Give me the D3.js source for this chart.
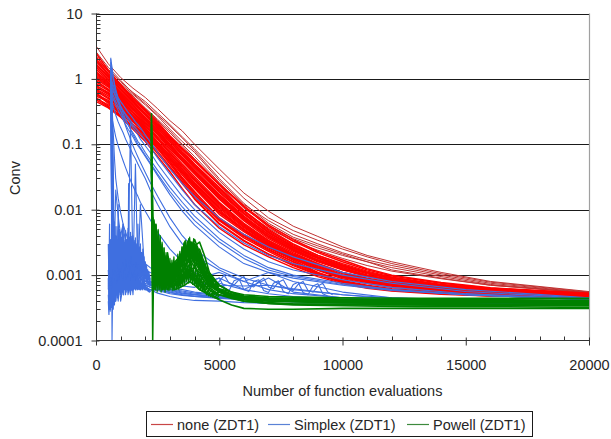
<!DOCTYPE html>
<html><head><meta charset="utf-8">
<script src="https://cdn.jsdelivr.net/npm/d3@7"></script>
<style>body{margin:0;background:#fff}svg{display:block}text{font-family:"Liberation Sans",Arial,sans-serif}</style>
</head><body><svg id="c" width="611" height="439"></svg>
<script>
const seriesNames = ["none (ZDT1)", "Simplex (ZDT1)", "Powell (ZDT1)"];
const yTickValues = [0.0001, 0.001, 0.01, 0.1, 1, 10];
const yTickLabels = ["0.0001", "0.001", "0.01", "0.1", "1", "10"];
const xTickValues = [0, 5000, 10000, 15000, 20000];
const xTickLabels = ["0", "5000", "10000", "15000", "20000"];
const xTitle = "Number of function evaluations";
const yTitle = "Conv";

// ---- "none" runs
const redX = [0,500,1000,1500,2000,2500,3000,3500,4000,5000,6000,7000,8000,9000,10000,11000,12000,14000,16000,20000];
const redOutlierRuns = [
 [3.2,1.7,1.05,0.72,0.52,0.35,0.23,0.16,0.1,0.042,0.018,0.0095,0.0056,0.0039,0.0027,0.002,0.0016,0.0011,0.0008,0.00056],
 [2.4,1.4,0.9,0.62,0.45,0.3,0.2,0.13,0.085,0.035,0.015,0.0075,0.0048,0.0034,0.0025,0.0019,0.0015,0.00105,0.00078,0.00055],
 [2.0,1.3,0.85,0.58,0.4,0.27,0.17,0.11,0.075,0.028,0.012,0.0068,0.0042,0.003,0.0022,0.0017,0.0014,0.001,0.00075,0.00054],
 [1.8,1.2,0.8,0.55,0.36,0.24,0.16,0.1,0.065,0.026,0.0105,0.0058,0.0036,0.0026,0.002,0.0016,0.0013,0.00095,0.00072,0.00053],
 [2.6,1.5,0.95,0.6,0.42,0.28,0.19,0.125,0.08,0.03,0.0125,0.0062,0.0038,0.0028,0.0021,0.0016,0.0012,0.0009,0.0007,0.00054],
 [1.6,1.1,0.75,0.5,0.35,0.23,0.15,0.095,0.06,0.024,0.0095,0.0052,0.0033,0.0024,0.0018,0.0014,0.00115,0.00088,0.0007,0.00053]
];
const redRuns = [
 [1.5,1.0,0.65,0.42,0.28,0.18,0.11,0.07,0.045,0.02,0.009,0.0045,0.0028,0.0019,0.0014,0.0011,0.0009,0.0007,0.0006,0.0005],
 [1.2,0.85,0.55,0.36,0.24,0.15,0.095,0.06,0.038,0.016,0.0075,0.0039,0.0025,0.0017,0.0013,0.001,0.00085,0.00068,0.00058,0.0005],
 [1.0,0.75,0.5,0.33,0.21,0.13,0.08,0.05,0.032,0.013,0.0062,0.0034,0.0022,0.0015,0.0011,0.0009,0.00078,0.00064,0.00056,0.00049],
 [0.8,0.6,0.42,0.28,0.18,0.11,0.068,0.042,0.026,0.011,0.0055,0.003,0.002,0.0014,0.001,0.00084,0.00073,0.0006,0.00054,0.00048],
 [0.65,0.5,0.36,0.24,0.16,0.1,0.06,0.036,0.022,0.009,0.0048,0.0028,0.0018,0.0012,0.00092,0.00077,0.00068,0.00058,0.00052,0.00047],
 [0.55,0.45,0.32,0.22,0.15,0.09,0.055,0.031,0.019,0.0075,0.0042,0.0026,0.0017,0.0011,0.00083,0.0007,0.00062,0.00055,0.0005,0.00046],
 [2.0,1.2,0.75,0.48,0.32,0.2,0.125,0.08,0.05,0.022,0.0098,0.005,0.003,0.002,0.0015,0.00115,0.00093,0.00072,0.00062,0.00052],
 [1.3,0.9,0.6,0.4,0.26,0.165,0.1,0.063,0.04,0.017,0.008,0.0042,0.0026,0.0018,0.00135,0.00105,0.00088,0.0007,0.0006,0.0005],
 [0.9,0.7,0.48,0.31,0.2,0.125,0.075,0.047,0.03,0.012,0.0058,0.0032,0.0021,0.00145,0.00105,0.00087,0.00075,0.00062,0.00055,0.00049],
 [1.1,0.8,0.52,0.34,0.22,0.14,0.085,0.055,0.035,0.0145,0.0068,0.0036,0.0023,0.0016,0.0012,0.00095,0.0008,0.00065,0.00057,0.0005],
 [0.7,0.55,0.4,0.26,0.17,0.105,0.063,0.039,0.024,0.01,0.005,0.0029,0.0019,0.0013,0.00095,0.0008,0.0007,0.00059,0.00053,0.00048],
 [1.7,1.1,0.7,0.45,0.3,0.19,0.12,0.075,0.048,0.021,0.0095,0.0048,0.0029,0.002,0.00145,0.0011,0.0009,0.00071,0.00061,0.00051],
 [0.6,0.42,0.3,0.2,0.14,0.085,0.05,0.029,0.017,0.007,0.0039,0.0024,0.0016,0.00105,0.0008,0.00068,0.0006,0.00053,0.0005,0.00046],
 [1.4,0.95,0.62,0.4,0.25,0.16,0.1,0.062,0.039,0.017,0.0078,0.0041,0.0026,0.0018,0.0013,0.001,0.00085,0.00068,0.00058,0.0005],
 [0.95,0.68,0.46,0.3,0.19,0.12,0.072,0.044,0.028,0.0115,0.0056,0.0031,0.002,0.0014,0.001,0.00085,0.00074,0.00061,0.00054,0.00048],
 [2.2,1.3,0.8,0.5,0.33,0.21,0.13,0.085,0.055,0.024,0.011,0.0055,0.0033,0.0022,0.0016,0.0012,0.00097,0.00075,0.00063,0.00052],
 [0.75,0.58,0.38,0.25,0.165,0.1,0.062,0.038,0.023,0.0095,0.005,0.0029,0.0019,0.0013,0.00094,0.00079,0.00069,0.00058,0.00053,0.00047],
 [1.25,0.88,0.58,0.38,0.25,0.16,0.098,0.061,0.039,0.016,0.0074,0.0039,0.0025,0.0017,0.00125,0.00098,0.00083,0.00066,0.00058,0.0005],
 [1.9,1.15,0.7,0.46,0.29,0.19,0.115,0.074,0.047,0.019,0.0088,0.0046,0.0027,0.0019,0.0014,0.0011,0.00092,0.0007,0.0006,0.00051],
 [0.85,0.66,0.44,0.3,0.19,0.12,0.074,0.046,0.029,0.0125,0.006,0.0033,0.0021,0.0015,0.0011,0.00088,0.00076,0.00063,0.00055,0.00049],
 [1.05,0.78,0.54,0.35,0.23,0.145,0.09,0.056,0.036,0.015,0.0071,0.0038,0.0024,0.00165,0.00122,0.00096,0.00082,0.00066,0.00057,0.0005],
 [0.58,0.47,0.34,0.23,0.155,0.095,0.058,0.034,0.021,0.0085,0.0046,0.0027,0.00175,0.00118,0.00088,0.00074,0.00065,0.00056,0.00051,0.00047],
 [1.6,1.05,0.68,0.44,0.28,0.175,0.108,0.068,0.043,0.0185,0.0085,0.0044,0.0027,0.00185,0.00138,0.00108,0.0009,0.00071,0.0006,0.00051],
 [0.68,0.52,0.37,0.25,0.16,0.1,0.061,0.037,0.0225,0.0092,0.0049,0.0028,0.00185,0.00125,0.00093,0.00078,0.00068,0.00058,0.00052,0.00047],
 [1.15,0.82,0.56,0.36,0.235,0.15,0.092,0.058,0.037,0.0155,0.0073,0.0038,0.0024,0.00168,0.00123,0.00097,0.00082,0.00066,0.00057,0.0005],
 [0.5,0.4,0.3,0.2,0.145,0.088,0.053,0.03,0.018,0.0072,0.004,0.0025,0.0016,0.00108,0.0008,0.00068,0.0006,0.00053,0.00049,0.00046],
 [2.5,1.35,0.82,0.52,0.34,0.22,0.135,0.088,0.058,0.025,0.0115,0.0058,0.0035,0.0023,0.0017,0.00125,0.001,0.00077,0.00064,0.00053],
 [0.78,0.62,0.41,0.27,0.175,0.108,0.066,0.041,0.025,0.0105,0.0053,0.003,0.00195,0.00135,0.00098,0.00082,0.00072,0.0006,0.00053,0.00048],
 [0.45,0.36,0.26,0.17,0.11,0.065,0.038,0.021,0.012,0.0052,0.0029,0.0019,0.0013,0.00095,0.00074,0.00063,0.00057,0.00051,0.00048,0.00045],
 [0.52,0.38,0.28,0.18,0.12,0.072,0.043,0.025,0.015,0.0062,0.0034,0.0021,0.00145,0.00102,0.00078,0.00066,0.00059,0.00052,0.00049,0.00046],
 [0.62,0.44,0.31,0.2,0.13,0.078,0.046,0.027,0.016,0.0068,0.0037,0.0023,0.0015,0.00105,0.0008,0.00067,0.0006,0.00053,0.00049,0.00046],
 [0.48,0.37,0.27,0.185,0.125,0.075,0.044,0.026,0.0145,0.006,0.0033,0.0021,0.0014,0.001,0.00077,0.00065,0.00058,0.00052,0.00048,0.00045]
];

// ---- "Simplex" runs
const blueX = [600,650,700,750,800,900,1000,1100,1200,1300,1400,1500,1600,1700,1800,2000,2200,2500,3000,3500,4000,5000,6000,7000,8000,10000,12000,15000,20000];
const blueRuns = [
 [2.1,0.0001,0.0025,0.0008,0.0015,0.0006,0.002,0.0009,0.0012,0.0007,0.0018,0.0008,0.0011,0.0006,0.0009,0.0007,0.00065,0.0006,0.00055,0.0005,0.00048,0.00045,0.00043,0.00041,0.0004,0.00039,0.00038,0.00038,0.00037],
 [1.8,0.9,0.004,0.0012,0.0005,0.0025,0.0007,0.0015,0.0005,0.0022,0.0009,0.0014,0.0006,0.0012,0.0008,0.0006,0.0006,0.00058,0.00052,0.00049,0.00047,0.00044,0.00042,0.0004,0.00039,0.00038,0.00038,0.00037,0.00037],
 [1.2,0.02,0.0006,0.003,0.0009,0.0004,0.0012,0.0005,0.0019,0.0008,0.0005,0.0016,0.0007,0.0009,0.0013,0.0007,0.00072,0.00068,0.00062,0.00057,0.00053,0.00049,0.00045,0.00042,0.00041,0.0004,0.00039,0.00038,0.00037],
 [0.8,0.005,0.0015,0.00035,0.0012,0.0028,0.0006,0.001,0.0025,0.0006,0.0013,0.0005,0.002,0.0007,0.0006,0.00075,0.0007,0.00063,0.00057,0.00052,0.0005,0.00046,0.00044,0.00042,0.0004,0.00039,0.00038,0.00038,0.00037],
 [0.5,0.3,0.05,0.0009,0.0004,0.0011,0.0032,0.0008,0.0006,0.0014,0.0035,0.0009,0.0006,0.0015,0.001,0.0008,0.00078,0.00072,0.00066,0.0006,0.00055,0.0005,0.00046,0.00043,0.00041,0.0004,0.00039,0.00038,0.00038],
 [1.5,0.1,0.0008,0.0018,0.0007,0.0016,0.0005,0.0012,0.0007,0.003,0.0008,0.0011,0.05,0.0009,0.0006,0.0007,0.00066,0.0006,0.00054,0.0005,0.00047,0.00045,0.00043,0.00041,0.0004,0.00039,0.00038,0.00037,0.00037],
 [0.9,0.6,0.01,0.0007,0.0022,0.0008,0.0014,0.0006,0.001,0.0017,0.2,0.0012,0.0008,0.0018,0.0011,0.0009,0.00075,0.00066,0.0006,0.00055,0.00051,0.00047,0.00044,0.00042,0.00041,0.0004,0.00039,0.00038,0.00038],
 [0.4,0.002,0.0003,0.0009,0.0004,0.0013,0.0004,0.0007,0.0013,0.0005,0.0009,0.0006,0.0014,0.0006,0.00075,0.00065,0.0006,0.00053,0.00047,0.00043,0.00041,0.0004,0.00038,0.00037,0.00036,0.00036,0.00036,0.00035,0.00035],
 [1.0,0.0015,0.0009,0.0005,0.002,0.0009,0.0007,0.0024,0.0009,0.0006,0.0012,0.0007,0.001,0.0008,0.012,0.0008,0.0007,0.00065,0.00059,0.00053,0.0005,0.00046,0.00043,0.00041,0.0004,0.00039,0.00038,0.00038,0.00037],
 [0.7,0.15,0.003,0.0012,0.0006,0.0009,0.0018,0.0011,0.0006,0.0009,0.0006,0.0019,0.0008,0.0006,0.0009,0.0008,0.0008,0.00075,0.0007,0.00068,0.00065,0.0009,0.0006,0.0009,0.00055,0.00045,0.0004,0.00039,0.00038],
 [0.6,0.55,0.5,0.45,0.4,0.33,0.28,0.24,0.2,0.17,0.15,0.13,0.11,0.095,0.085,0.065,0.05,0.033,0.017,0.0095,0.0058,0.0027,0.0015,0.0011,0.0009,0.0007,0.00058,0.0005,0.00042],
 [0.85,0.75,0.65,0.58,0.52,0.43,0.37,0.32,0.28,0.24,0.21,0.18,0.16,0.14,0.12,0.095,0.075,0.05,0.028,0.016,0.01,0.0045,0.0025,0.0016,0.0012,0.00085,0.00065,0.00052,0.00043],
 [1.0,0.9,0.8,0.7,0.62,0.52,0.45,0.4,0.35,0.31,0.28,0.25,0.22,0.2,0.18,0.14,0.11,0.075,0.042,0.025,0.016,0.0075,0.0042,0.0027,0.0019,0.0011,0.0008,0.0006,0.00045],
 [0.5,0.45,0.38,0.33,0.28,0.22,0.18,0.15,0.12,0.1,0.085,0.07,0.06,0.05,0.042,0.03,0.02,0.012,0.0055,0.003,0.002,0.0012,0.0008,0.0006,0.00052,0.00045,0.00042,0.0004,0.00038],
 [0.7,0.62,0.56,0.5,0.45,0.38,0.32,0.27,0.23,0.2,0.17,0.15,0.13,0.11,0.1,0.075,0.058,0.04,0.022,0.013,0.008,0.0036,0.002,0.0013,0.001,0.00075,0.0006,0.0005,0.00042],
 [1.3,0.1,0.01,0.003,0.02,0.008,0.004,0.006,0.003,0.0025,0.002,0.0018,0.0016,0.0015,0.0014,0.0012,0.0011,0.001,0.0009,0.0008,0.00075,0.0007,0.00068,0.0007,0.00062,0.0005,0.00043,0.0004,0.00038],
 [1.6,1.3,1.0,0.8,0.65,0.45,0.33,0.25,0.19,0.15,0.12,0.095,0.078,0.064,0.053,0.037,0.026,0.016,0.0075,0.004,0.0025,0.0013,0.0009,0.0007,0.0006,0.0005,0.00045,0.00042,0.00039],
 [2.0,1.5,1.1,0.85,0.7,0.5,0.38,0.3,0.24,0.2,0.17,0.14,0.12,0.1,0.088,0.068,0.052,0.035,0.019,0.011,0.0068,0.0032,0.0018,0.0012,0.00095,0.00072,0.0006,0.0005,0.00042],
 [0.3,0.25,0.2,0.16,0.13,0.095,0.072,0.056,0.044,0.035,0.028,0.023,0.019,0.016,0.013,0.0095,0.007,0.0045,0.0025,0.0016,0.0011,0.00075,0.0006,0.00052,0.00047,0.00043,0.0004,0.00039,0.00037],
 [0.95,0.85,0.72,0.62,0.55,0.45,0.38,0.33,0.29,0.26,0.23,0.2,0.18,0.16,0.145,0.115,0.09,0.062,0.035,0.02,0.012,0.0055,0.0031,0.002,0.0015,0.001,0.00075,0.00056,0.00044],
 [1.1,0.4,0.15,0.06,0.03,0.015,0.009,0.006,0.0045,0.0035,0.003,0.0026,0.0023,0.002,0.0018,0.0015,0.0013,0.0011,0.001,0.0009,0.00085,0.0011,0.0008,0.0011,0.0008,0.00055,0.00045,0.0004,0.00038]
];
// dense early Simplex samples
const blueNoiseX = [500,525,550,575,600,625,650,675,700,725,750,775,800,825,850,875,900,925,950,975,1000,1025,1050,1075,1100,1125,1150,1175,1200,1225,1250,1275,1300,1325,1350,1375,1400,1425,1450,1475,1500,1525,1550,1575,1600,1625,1650,1675,1700,1725,1750,1775,1800,1825,1850,1875,1900,1925,1950,1975,2000,2025,2050,2075,2100,2125,2150,2175,2200];
const blueNoiseRuns = [
 [0.0009,0.0004,0.0012,0.0003,0.0008,0.0025,0.0006,0.0018,0.0005,0.0014,
  0.004,0.0009,0.0022,0.0007,0.0035,0.0012,0.0026,0.0008,0.0019,0.0011,
  0.003,0.0009,0.0021,0.0013,0.0042,0.0012,0.0024,0.0009,0.0017,0.0028,
  0.0011,0.0033,0.0014,0.0022,0.001,0.0026,0.0015,0.0036,0.0012,0.0019,
  0.0009,0.0024,0.0013,0.0029,0.0011,0.0018,0.0026,0.001,0.0021,0.0013,
  0.0025,0.0011,0.0017,0.0009,0.0022,0.0012,0.0016,0.0009,0.0014,0.001,
  0.0013,0.0009,0.0011,0.0008,0.001,0.00085,0.0009,0.0008,0.00075],
 [0.0006,0.0015,0.0004,0.0009,0.0032,0.0007,0.0045,0.0011,0.0028,0.0008,
  0.0016,0.0055,0.0013,0.0031,0.001,0.0021,0.0048,0.0014,0.0027,0.0016,
  0.0038,0.0015,0.0026,0.0052,0.0018,0.003,0.0013,0.0034,0.0021,0.0014,
  0.0027,0.0017,0.0045,0.0019,0.0031,0.0015,0.0023,0.0017,0.0039,0.0021,
  0.0028,0.0016,0.0034,0.0019,0.0025,0.0014,0.003,0.0018,0.0024,0.0015,
  0.0019,0.0027,0.0014,0.0021,0.0013,0.0018,0.0012,0.002,0.0011,0.0016,
  0.001,0.0014,0.0009,0.0012,0.0009,0.0011,0.0008,0.001,0.0008],
 [0.0005,0.0003,0.0007,0.00028,0.0005,0.0009,0.00035,0.0007,0.0004,0.0011,
  0.0005,0.0009,0.00045,0.0012,0.0006,0.0008,0.0005,0.001,0.0006,0.0009,
  0.0006,0.0012,0.0007,0.0009,0.0006,0.0011,0.0007,0.0008,0.0006,0.001,
  0.0007,0.0009,0.0006,0.0012,0.0007,0.0009,0.00065,0.0008,0.0006,0.0011,
  0.0007,0.0009,0.00065,0.0008,0.0006,0.001,0.0007,0.0008,0.00065,0.0009,
  0.0007,0.0008,0.0006,0.00075,0.00065,0.0009,0.0006,0.0008,0.00065,0.0007,
  0.0006,0.00068,0.0006,0.00065,0.00058,0.00062,0.00056,0.0006,0.00055],
 [0.0012,0.0007,0.002,0.0005,0.0015,0.0006,0.0011,0.03,0.0009,0.0016,
  0.0007,0.0013,0.0025,0.0008,0.0014,0.0009,0.012,0.0011,0.0015,0.0008,
  0.0013,0.0009,0.0016,0.0008,0.0012,0.0019,0.001,0.0014,0.0008,0.0013,
  0.0009,0.0015,0.0011,0.025,0.0012,0.0016,0.0009,0.0013,0.0018,0.0011,
  0.0014,0.0009,0.0017,0.0011,0.0013,0.0008,0.0015,0.001,0.006,0.0011,
  0.0013,0.0009,0.0012,0.0008,0.0011,0.0014,0.0009,0.0012,0.0008,0.001,
  0.0009,0.0011,0.0008,0.0009,0.00075,0.0008,0.0007,0.00075,0.0007],
 [0.003,0.0008,0.006,0.0004,0.0035,0.0009,0.008,0.0006,0.0045,0.001,
  0.0065,0.0012,0.004,0.0008,0.0055,0.0015,0.0035,0.0009,0.005,0.0013,
  0.0045,0.0011,0.0038,0.0016,0.006,0.0014,0.0032,0.0012,0.0048,0.0018,
  0.0035,0.0013,0.0052,0.0017,0.0038,0.0012,0.0045,0.002,0.0033,0.0014,
  0.004,0.0015,0.0032,0.0012,0.0037,0.0016,0.0028,0.0013,0.0034,0.0015,
  0.0026,0.0012,0.003,0.0014,0.0022,0.0011,0.0025,0.0012,0.0019,0.001,
  0.0016,0.001,0.0014,0.0009,0.0012,0.0009,0.0011,0.00085,0.0009],
 [0.0004,0.00025,0.0006,0.0003,0.0009,0.00032,0.0006,0.0004,0.0012,0.00045,
  0.0008,0.0004,0.0011,0.0005,0.0007,0.00045,0.001,0.0005,0.0008,0.00055,
  0.0011,0.0005,0.0009,0.00055,0.0008,0.0005,0.0012,0.0006,0.0008,0.00055,
  0.001,0.0006,0.0009,0.00055,0.0011,0.0006,0.0008,0.00058,0.001,0.0006,
  0.0009,0.0006,0.0011,0.00062,0.0008,0.0006,0.0009,0.00062,0.001,0.00065,
  0.0008,0.0006,0.0009,0.00062,0.00075,0.0006,0.0008,0.00062,0.00072,0.0006,
  0.0007,0.0006,0.00065,0.00058,0.00063,0.00056,0.0006,0.00055,0.00058]
];
// scalloped Simplex runs
const blueHumpX = [4600,4800,5000,5200,5400,5600,5800,6000,6200,6400,6600,6800,7000,7200,7400,7600,7800,8000,8200,8400,8600,8800,9000,9200,9400,9600];
const blueHumpRuns = [
 [0.0006,0.00085,0.0009,0.00065,0.00058,0.00082,0.00088,0.0006,0.00056,0.0008,0.00085,0.00058,0.00054,0.00075,0.00082,0.00056,0.00052,0.00072,0.00078,0.00054,0.0005,0.00068,0.00074,0.00052,0.00048,0.00046],
 [0.0009,0.0007,0.0008,0.001,0.00075,0.0007,0.00085,0.00095,0.0007,0.00066,0.0008,0.0009,0.00066,0.00062,0.00078,0.00085,0.00062,0.00058,0.00072,0.0008,0.00058,0.00055,0.00068,0.00075,0.00055,0.0005]
];

// ---- "Powell" runs
const greenX = [2250,2300,2350,2400,2450,2500,2600,2700,2800,2900,3000,3200,3400,3600,3800,4000,4200,4400,4600,5000,5500,6000,7000,8000,10000,13000,16000,20000];
const greenRuns = [
 [0.3,0.0001,0.004,0.0012,0.0025,0.0009,0.0015,0.0011,0.0008,0.0012,0.0009,0.0008,0.0007,0.0009,0.0012,0.0008,0.0006,0.00055,0.0005,0.00055,0.00048,0.00044,0.00041,0.0004,0.00039,0.00038,0.00038,0.00037],
 [0.2,0.006,0.0015,0.0035,0.001,0.0022,0.0009,0.0014,0.0011,0.0007,0.0012,0.001,0.0009,0.0014,0.002,0.0015,0.0009,0.0007,0.0006,0.0005,0.00046,0.00043,0.0004,0.00039,0.00038,0.00037,0.00036,0.00036],
 [0.15,0.002,0.0055,0.0014,0.0008,0.0018,0.0013,0.0007,0.0015,0.0009,0.0008,0.0011,0.0013,0.0018,0.0028,0.003,0.0018,0.0011,0.0008,0.0006,0.0005,0.00046,0.00043,0.00042,0.00041,0.0004,0.0004,0.00039],
 [0.1,0.0009,0.0025,0.006,0.0018,0.0011,0.0025,0.0012,0.0009,0.0014,0.0011,0.0009,0.0012,0.0021,0.0033,0.0026,0.0014,0.0009,0.0007,0.00055,0.00047,0.00042,0.00038,0.00036,0.00035,0.00035,0.00034,0.00034],
 [0.25,0.0005,0.0012,0.0008,0.003,0.0014,0.0007,0.0018,0.0012,0.001,0.0014,0.0008,0.001,0.0016,0.0024,0.0035,0.0022,0.0012,0.0008,0.0006,0.00052,0.00048,0.00045,0.00044,0.00043,0.00042,0.00042,0.00041],
 [0.05,0.003,0.0008,0.002,0.0045,0.001,0.0016,0.0008,0.0019,0.0012,0.0007,0.0012,0.0015,0.0012,0.0019,0.0021,0.0025,0.0015,0.001,0.0007,0.00055,0.00047,0.00042,0.0004,0.00038,0.00036,0.00035,0.00034],
 [0.08,0.0012,0.0035,0.0011,0.0007,0.0016,0.0021,0.001,0.0007,0.0016,0.001,0.0007,0.0009,0.0011,0.0015,0.0018,0.0013,0.0009,0.0007,0.00055,0.00045,0.0004,0.00037,0.00035,0.00034,0.00033,0.00033,0.00032],
 [0.02,0.0006,0.0009,0.0006,0.0012,0.0007,0.0009,0.0006,0.0008,0.0006,0.0007,0.0006,0.00065,0.0007,0.0008,0.0007,0.0006,0.00055,0.0005,0.00042,0.00035,0.00031,0.0003,0.0003,0.00031,0.00031,0.00031,0.00031],
 [0.12,0.004,0.0009,0.0016,0.0009,0.0028,0.0011,0.0015,0.001,0.0022,0.0013,0.0009,0.0011,0.0013,0.0017,0.0028,0.0032,0.002,0.0011,0.0007,0.00054,0.00047,0.00044,0.00043,0.00042,0.00041,0.00041,0.0004],
 [0.04,0.0015,0.0007,0.0012,0.0021,0.0008,0.0011,0.0014,0.0009,0.0008,0.0011,0.0014,0.0008,0.0009,0.0012,0.0013,0.0011,0.0008,0.00065,0.0005,0.00044,0.0004,0.00037,0.00036,0.00036,0.00035,0.00035,0.00035],
 [0.18,0.008,0.002,0.0009,0.0013,0.0035,0.0009,0.0012,0.0017,0.0011,0.0009,0.0016,0.0019,0.0026,0.0022,0.0016,0.0012,0.0009,0.0007,0.00056,0.00049,0.00045,0.00042,0.00041,0.0004,0.00039,0.00039,0.00038],
 [0.06,0.001,0.0018,0.0025,0.0009,0.0013,0.0008,0.0022,0.0014,0.0009,0.0015,0.0011,0.0014,0.0019,0.0027,0.0023,0.0017,0.001,0.00075,0.00058,0.0005,0.00046,0.00043,0.00042,0.0004,0.00039,0.00038,0.00037],
 [0.09,0.0013,0.0022,0.0009,0.0016,0.0011,0.0019,0.0009,0.0013,0.0017,0.001,0.0013,0.0016,0.0022,0.0018,0.0013,0.001,0.0008,0.00068,0.00062,0.00055,0.0005,0.00047,0.00046,0.00045,0.00044,0.00044,0.00044]
];
// dense early Powell samples
const greenNoiseX = [2280,2320,2360,2400,2440,2480,2520,2560,2600,2640,2680,2720,2760,2800,2840,2880,2920,2960,3000,3040,3080,3120,3160,3200,3240,3280,3320,3360,3400,3440,3480,3520,3560,3600,3640,3680,3720,3760,3800,3840,3880,3920,3960,4000,4040,4080,4120,4160,4200,4240,4280,4320,4360,4400,4440,4480,4520,4560,4600,4640,4680,4720,4760,4800,4840,4880,4920,4960,5000];
const greenNoiseRuns = [
 [0.005,0.0009,0.004,0.0012,0.0035,0.0008,0.0025,0.001,0.002,
  0.0008,0.0016,0.0007,0.0014,0.0009,0.0018,0.0007,0.0012,0.0008,
  0.0015,0.0007,0.0011,0.0009,0.0016,0.0008,0.0012,0.0009,0.0014,
  0.001,0.0017,0.0011,0.0021,0.0012,0.0025,0.0013,0.0028,0.0015,
  0.003,0.0016,0.0026,0.0014,0.0032,0.0017,0.0024,0.0013,0.0027,
  0.0014,0.0022,0.0012,0.0019,0.0011,0.0016,0.001,0.0013,0.0009,
  0.0011,0.0008,0.001,0.00075,0.0009,0.0007,0.0008,0.00068,0.00075,
  0.00065,0.0007,0.0006,0.00065,0.00058,0.0006],
 [0.0012,0.0075,0.0015,0.0055,0.0009,0.0038,0.0013,0.0028,0.0008,
  0.0019,0.001,0.0013,0.0006,0.0015,0.0011,0.0017,0.0009,0.0013,
  0.0007,0.0014,0.001,0.0012,0.0008,0.0015,0.0009,0.0017,0.0011,
  0.0019,0.0012,0.0016,0.0024,0.0014,0.0021,0.0033,0.0018,0.0026,
  0.0019,0.0035,0.0021,0.0029,0.0018,0.0025,0.0031,0.0019,0.0023,
  0.0028,0.0016,0.002,0.0014,0.0018,0.0012,0.0015,0.0011,0.0013,
  0.0009,0.0012,0.00085,0.001,0.0008,0.0009,0.00072,0.0008,0.0007,
  0.00072,0.00062,0.00068,0.0006,0.00062,0.00056],
 [0.0025,0.0007,0.0018,0.0006,0.0013,0.0007,0.0016,0.0006,0.0012,
  0.0006,0.0011,0.0007,0.001,0.0006,0.0009,0.0007,0.0011,0.0006,
  0.001,0.0007,0.0009,0.0006,0.0011,0.0007,0.0009,0.0006,0.001,
  0.0007,0.0012,0.0008,0.0011,0.0007,0.0013,0.0008,0.0015,0.0009,
  0.0014,0.0009,0.0017,0.001,0.0015,0.0009,0.0013,0.0008,0.0012,
  0.0008,0.0011,0.0007,0.001,0.0007,0.0009,0.00065,0.0008,0.0006,
  0.00075,0.0006,0.0007,0.00055,0.00065,0.00055,0.0006,0.0005,0.00058,
  0.0005,0.00055,0.00048,0.00052,0.00047,0.0005],
 [0.008,0.003,0.007,0.0025,0.006,0.002,0.005,0.0018,0.004,
  0.0015,0.0032,0.0012,0.0026,0.0011,0.002,0.0009,0.0016,0.001,
  0.0013,0.0009,0.0012,0.0014,0.001,0.0013,0.0016,0.0011,0.0018,
  0.0013,0.0021,0.0015,0.0019,0.0027,0.002,0.0024,0.0032,0.0022,
  0.0028,0.0036,0.0025,0.0031,0.0022,0.0029,0.0034,0.0021,0.0026,
  0.0019,0.0024,0.0017,0.0021,0.0015,0.0018,0.0013,0.0016,0.0012,
  0.0014,0.001,0.0012,0.0009,0.001,0.0008,0.0009,0.00075,0.0008,
  0.0007,0.00075,0.00065,0.0007,0.0006,0.00062],
 [0.0075,0.002,0.0065,0.0028,0.0058,0.002,0.0048,0.0018,0.004,
  0.0017,0.003,0.0014,0.0026,0.0012,0.0022,0.0011,0.0019,0.0012,
  0.0018,0.0011,0.0017,0.0012,0.0019,0.0011,0.0016,0.0013,0.0021,
  0.0014,0.0023,0.0016,0.0027,0.0017,0.0031,0.0019,0.0034,0.0021,
  0.0033,0.0023,0.0038,0.0024,0.0032,0.0022,0.0036,0.0021,0.0029,
  0.0022,0.0027,0.0018,0.0023,0.0016,0.002,0.0014,0.0017,0.0012,
  0.0015,0.0011,0.0013,0.001,0.0011,0.0009,0.001,0.0008,0.00088,
  0.00078,0.00082,0.0007,0.00074,0.00065,0.00068],
 [0.0009,0.0005,0.0011,0.0006,0.0009,0.00055,0.001,0.0006,0.0009,
  0.00055,0.0008,0.0006,0.0009,0.00055,0.0008,0.0006,0.00085,0.00058,
  0.0008,0.0006,0.0009,0.00058,0.00075,0.0006,0.0009,0.00062,0.0008,
  0.0006,0.0009,0.00065,0.001,0.0007,0.0011,0.00072,0.0012,0.0008,
  0.0011,0.00075,0.0012,0.0008,0.001,0.00072,0.0011,0.0007,0.0009,
  0.00068,0.00085,0.00062,0.0008,0.0006,0.00072,0.00056,0.00068,0.00054,
  0.00062,0.0005,0.00058,0.00048,0.00055,0.00047,0.00052,0.00046,0.0005,
  0.00045,0.00048,0.00044,0.00046,0.00043,0.00045]
];

const colors = {red: "#ff0000", redDark: "#c03232", blue: "#3f6fe0", green: "#008000"};
const legendColors = ["#c84646", "#5a82d6", "#3d8a3d"];

const svg = d3.select("#c");
const L = 96, R = 589, T = 13.5, B = 340.5;
const x = d3.scaleLinear().domain([0, 20000]).range([L, R]);
const y = d3.scaleLog().domain([0.0001, 10]).range([B, T]);
const font = 14.5, txt = "#262626";

// gridlines
svg.append("g").selectAll("line").data(yTickValues.slice(1)).join("line")
  .attr("x1", L).attr("x2", R).attr("y1", d => Math.round(y(d)) + 0.5).attr("y2", d => Math.round(y(d)) + 0.5)
  .attr("stroke", "#1a1a1a").attr("stroke-width", 1);
svg.append("line").attr("x1", R + 0.5).attr("x2", R + 0.5).attr("y1", y(10)).attr("y2", B)
  .attr("stroke", "#a0a0a0").attr("stroke-width", 1.2);

// data
svg.append("defs").append("clipPath").attr("id", "pc").append("rect")
  .attr("x", L).attr("y", T - 2).attr("width", R - L).attr("height", B - T + 2);
const plot = svg.append("g").attr("clip-path", "url(#pc)");
function draw(X, runs, color, w) {
  const line = d3.line().defined((d, i) => X[i] !== undefined).x((d, i) => x(X[i])).y(d => y(d));
  plot.append("g").selectAll("path").data(runs).join("path")
    .attr("d", line).attr("fill", "none").attr("stroke", color).attr("stroke-width", w).attr("stroke-linejoin", "round");
}
draw(redX, redOutlierRuns, colors.redDark, 1);
draw(redX, redRuns, colors.red, 1.4);
draw(blueX, blueRuns, colors.blue, 1.1);
draw(blueNoiseX, blueNoiseRuns, colors.blue, 1.2);
draw(blueHumpX, blueHumpRuns, colors.blue, 1.1);
draw(greenX, greenRuns, colors.green, 1.6);
draw(greenNoiseX, greenNoiseRuns, colors.green, 1.2);

// y axis
const yAxis = svg.append("g").attr("transform", `translate(${L + 0.5},0)`)
  .call(d3.axisLeft(y).tickValues(yTickValues).tickFormat((d, i) => yTickLabels[i]).tickSize(5).tickPadding(9));
yAxis.select(".domain").attr("stroke", "#333").attr("d", `M0,${T}V${B}`);
yAxis.selectAll(".tick line").attr("stroke", "#333").attr("x2", -5).attr("x1", 3);
yAxis.selectAll(".tick text").attr("font-size", font).attr("fill", txt).attr("font-family", "Liberation Sans, Arial");
const yMinor = [];
for (let e = -4; e < 1; e++) for (let k = 2; k <= 9; k++) yMinor.push(k * Math.pow(10, e));
yAxis.append("g").selectAll("line").data(yMinor).join("line")
  .attr("x1", 0).attr("x2", 4).attr("y1", d => Math.round(y(d)) + 0.5).attr("y2", d => Math.round(y(d)) + 0.5)
  .attr("stroke", "#333");

// x axis
const xAxis = svg.append("g").attr("transform", `translate(0,${B})`)
  .call(d3.axisBottom(x).tickValues(xTickValues).tickFormat((d, i) => xTickLabels[i]).tickSize(5).tickPadding(14));
xAxis.select(".domain").attr("stroke", "#333").attr("d", `M${L},0H${R}`);
xAxis.selectAll(".tick line").attr("stroke", "#333").attr("y1", -3).attr("y2", 5);
xAxis.selectAll(".tick text").attr("font-size", font).attr("fill", txt).attr("font-family", "Liberation Sans, Arial");
const xMinor = d3.range(1000, 20000, 1000).filter(v => v % 5000 !== 0);
xAxis.append("g").selectAll("line").data(xMinor).join("line")
  .attr("x1", d => Math.round(x(d)) + 0.5).attr("x2", d => Math.round(x(d)) + 0.5).attr("y1", -4).attr("y2", 0)
  .attr("stroke", "#333");

// titles
svg.append("text").attr("x", (L + R) / 2).attr("y", 396).attr("text-anchor", "middle")
  .attr("font-size", font).attr("fill", txt).text(xTitle);
svg.append("text").attr("transform", "translate(20,178) rotate(-90)").attr("text-anchor", "middle")
  .attr("font-size", font).attr("fill", txt).text(yTitle);

// legend
const lg = svg.append("g");
lg.append("rect").attr("x", 146.5).attr("y", 411.5).attr("width", 386).attr("height", 25)
  .attr("fill", "#fff").attr("stroke", "#1a1a1a").attr("stroke-width", 1);
const lx = [151, 268, 407];
seriesNames.forEach((n, i) => {
  lg.append("line").attr("x1", lx[i]).attr("x2", lx[i] + 22).attr("y1", 424.5).attr("y2", 424.5)
    .attr("stroke", legendColors[i]).attr("stroke-width", 1.2);
  lg.append("text").attr("x", lx[i] + 26).attr("y", 429.5).attr("font-size", font).attr("fill", txt).text(n);
});
</script></body></html>
